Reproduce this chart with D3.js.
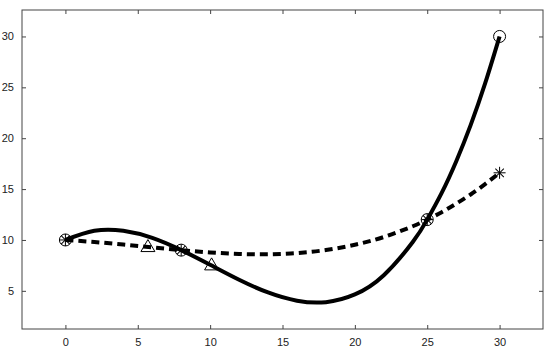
<!DOCTYPE html>
<html>
<head>
<meta charset="utf-8">
<script src="https://cdn.jsdelivr.net/npm/d3@7"></script>
<style>
  body { margin: 0; background: #fff; }
  svg { display: block; font-family: "Liberation Sans", Arial, sans-serif; }
</style>
</head>
<body>
<div class="chart"></div>
<script>
var xSamples = [0, 2, 4, 6, 8, 10, 12, 14, 16, 18, 20, 22, 24, 25, 26, 27, 28, 29, 30];
var solidY = [10, 10.9, 10.9, 10.2, 9, 7.56, 6.09, 4.84, 4.03, 3.89, 4.65, 6.54, 9.8, 12, 14.63, 17.72, 21.29, 25.38, 30];
var dashedY = [10, 9.8, 9.55, 9.27, 9, 8.77, 8.63, 8.59, 8.71, 9.01, 9.53, 10.29, 11.35, 12, 12.73, 13.57, 14.47, 15.49, 16.6];

// marker points
var circleX = [0, 8, 25, 30];
var circleY = [10, 9, 12, 30];
var starX = [0, 8, 25, 30];
var starY = [10, 9, 12, 16.6];
var triX = [5.7, 10.1];
var triY = [9.4, 7.6];

var xTicks = [0, 5, 10, 15, 20, 25, 30];
var yTicks = [5, 10, 15, 20, 25, 30];

var svgWidth = 550;
var svgHeight = 353;
var margin = { top: 10, right: 7, bottom: 24, left: 22 };
var chartWidth = svgWidth - margin.left - margin.right;
var chartHeight = svgHeight - margin.top - margin.bottom;

var svg = d3.select(".chart")
  .append("svg")
  .attr("width", svgWidth)
  .attr("height", svgHeight);

var chartGroup = svg.append("g")
  .attr("transform", `translate(${margin.left}, ${margin.top})`);

var xScale = d3.scaleLinear().domain([-3, 33]).range([0, chartWidth]);
var yScale = d3.scaleLinear().domain([1.25, 32.6]).range([chartHeight, 0]);

var axisColor = "#444";

// axes, ticks pointing inward on all four sides
function styleAxis(g) {
  g.select(".domain").remove();
  g.selectAll("line").attr("stroke", axisColor);
  g.selectAll("text").attr("fill", "#222").style("font-size", "11px");
}

chartGroup.append("g")
  .attr("transform", `translate(0, ${chartHeight})`)
  .call(d3.axisBottom(xScale).tickValues(xTicks).tickSize(-4).tickPadding(9))
  .call(styleAxis);

chartGroup.append("g")
  .call(d3.axisTop(xScale).tickValues(xTicks).tickSize(-4).tickFormat(""))
  .call(styleAxis);

chartGroup.append("g")
  .call(d3.axisLeft(yScale).tickValues(yTicks).tickSize(-4).tickPadding(8))
  .call(styleAxis);

chartGroup.append("g")
  .attr("transform", `translate(${chartWidth}, 0)`)
  .call(d3.axisRight(yScale).tickValues(yTicks).tickSize(-4).tickFormat(""))
  .call(styleAxis);

chartGroup.append("rect")
  .attr("x", 0).attr("y", 0)
  .attr("width", chartWidth).attr("height", chartHeight)
  .attr("fill", "none")
  .attr("stroke", axisColor)
  .attr("stroke-width", 1);

// curves
var line = d3.line()
  .x(d => xScale(d[0]))
  .y(d => yScale(d[1]))
  .curve(d3.curveNatural);

chartGroup.append("path")
  .datum(xSamples.map((x, i) => [x, dashedY[i]]))
  .attr("d", line)
  .attr("fill", "none")
  .attr("stroke", "#000")
  .attr("stroke-width", 4)
  .attr("stroke-dasharray", "8,5");

chartGroup.append("path")
  .datum(xSamples.map((x, i) => [x, solidY[i]]))
  .attr("d", line)
  .attr("fill", "none")
  .attr("stroke", "#000")
  .attr("stroke-width", 4);

// markers
chartGroup.selectAll(".circ")
  .data(circleX)
  .enter().append("circle")
  .attr("class", "circ")
  .attr("cx", d => xScale(d))
  .attr("cy", (d, i) => yScale(circleY[i]))
  .attr("r", 6)
  .attr("fill", "none")
  .attr("stroke", "#000")
  .attr("stroke-width", 1);

var star = d3.symbol().type(d3.symbolAsterisk);
starX.forEach(function(x, i) {
  var g = chartGroup.append("g")
    .attr("transform", `translate(${xScale(x)}, ${yScale(starY[i])})`);
  [0, 45, 90, 135].forEach(function(a) {
    g.append("line")
      .attr("x1", -6).attr("x2", 6)
      .attr("y1", 0).attr("y2", 0)
      .attr("transform", `rotate(${a})`)
      .attr("stroke", "#000")
      .attr("stroke-width", 1);
  });
});

chartGroup.selectAll(".tri")
  .data(triX)
  .enter().append("path")
  .attr("class", "tri")
  .attr("d", "M0,-6.5L7,5.5L-7,5.5Z")
  .attr("transform", (d, i) => `translate(${xScale(d)}, ${yScale(triY[i])})`)
  .attr("fill", "none")
  .attr("stroke", "#000")
  .attr("stroke-width", 1);
</script>
</body>
</html>
